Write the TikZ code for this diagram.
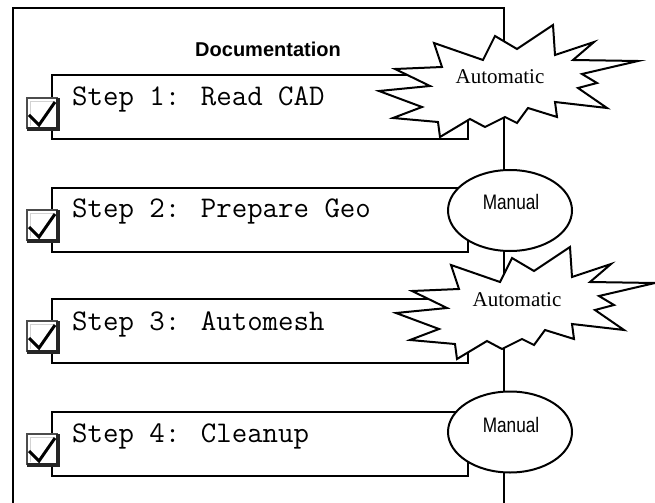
\documentclass[tikz,border=0pt]{standalone}
\usepackage{fontspec}
\newfontfamily\headfont{Liberation Sans}
\newfontfamily\narrowfont[FakeStretch=0.82]{Liberation Sans}
\newfontfamily\seriffont{Liberation Serif}
\usetikzlibrary{shapes.geometric}

\tikzset{
  frameline/.style={line width=2bp},
  stepbox/.style={draw, line width=2bp, fill=white, minimum width=416bp,
    minimum height=64bp, inner sep=0pt, anchor=north west},
  steptext/.style={anchor=base west, inner sep=0pt,
    font=\ttfamily\fontsize{30bp}{34bp}\selectfont},
  oval/.style={draw, ellipse, line width=2bp, fill=white,
    minimum width=124bp, minimum height=81bp, inner sep=0pt},
  ovaltext/.style={anchor=base, inner sep=0pt,
    font=\narrowfont\fontsize{21bp}{24bp}\selectfont},
  bursttext/.style={anchor=base, inner sep=0pt,
    font=\seriffont\fontsize{21bp}{24bp}\selectfont},
  burstline/.style={draw, line width=2bp, fill=white, line join=miter, miter limit=20},
  % tick box drawn from its top-left corner
  checkbox/.pic={
    \fill[white] (0,0) rectangle (31,31);
    \draw[gray!35, line width=1.5bp] (3.5,28) -- (3.5,3.5) -- (28,3.5);
    \draw[black!70, line width=2.2bp] (0,31) -- (0,0) -- (31,0);
    \draw[black!85, line width=3.5bp] (0,31) -- (31,31) -- (31,0);
    \draw[black, line width=3bp, line join=miter] (2,17) -- (12,27) -- (28,4);
  },
  % starburst outline around its centre
  burst/.pic={
    \draw[burstline] (-121,13) -- (-70,8) -- (-105,-9) -- (-58,-11) -- (-66,-35)
      -- (-17,-18) -- (-5,-42) -- (17,-29) -- (53,-53) -- (55,-23) -- (94,-36)
      -- (73,-18) -- (138,-17) -- (82,-4) -- (97,5) -- (78,10) -- (107,30)
      -- (55,24) -- (57,39) -- (28,30) -- (17,45) -- (5,39) -- (-15,49)
      -- (-30,41) -- (-60,59) -- (-62,44) -- (-107,40) -- (-78,29) -- cycle;
  },
}

\begin{document}
\begin{tikzpicture}[x=1bp, y=-1bp]
  \useasboundingbox (0,0) rectangle (655,503);

  % outer frame, open at the bottom
  \draw[frameline] (13,503) -- (13,8) -- (504,8) -- (504,503);

  \node[font=\headfont\bfseries\fontsize{20bp}{24bp}\selectfont, anchor=base,
        inner sep=0pt] (title) at (268,57) {Documentation};

  % steps
  \node[stepbox] (box1) at (51,74) {};
  \node[stepbox] (box2) at (51,187) {};
  \node[stepbox] (box3) at (51,298) {};
  \node[stepbox] (box4) at (51,411) {};

  \pic at (27,98) {checkbox};
  \pic at (27,210) {checkbox};
  \pic at (27,321) {checkbox};
  \pic at (27,434) {checkbox};

  \node[steptext] (s1) at (72,106) {Step 1: Read CAD};
  \node[steptext] (s2) at (72,218) {Step 2: Prepare Geo};
  \node[steptext] (s3) at (72,330) {Step 3: Automesh};
  \node[steptext] (s4) at (72,442) {Step 4: Cleanup};

  % step kinds
  \pic at (500,78) {burst};
  \node[bursttext] (a1) at (500,84) {Automatic};

  \node[oval] (m1) at (510,210.5) {};
  \node[ovaltext] (m1t) at (511,210) {Manual};

  \pic at (517,300) {burst};
  \node[bursttext] (a2) at (517,306) {Automatic};

  \node[oval] (m2) at (510,432) {};
  \node[ovaltext] (m2t) at (511,432) {Manual};
\end{tikzpicture}
\end{document}
